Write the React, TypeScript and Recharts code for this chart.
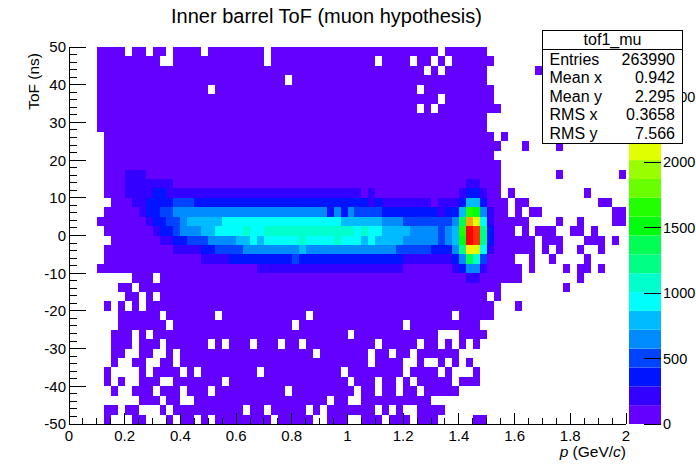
import React from 'react';
import { ScatterChart, Scatter, XAxis, YAxis, BarChart, Bar } from 'recharts';

const CHART_W = 696;
const CHART_H = 472;
const FONT = '"Liberation Sans", Arial, Helvetica, sans-serif';

// plot frame geometry (pixels)
const PLOT_LEFT = 69;
const PLOT_TOP = 47;
const PLOT_W = 557;
const PLOT_H = 377;
const Y_AXIS_W = 60;
const X_AXIS_H = 30;

// histogram binning
const X_RANGE: [number, number] = [0, 2];
const Y_RANGE: [number, number] = [-50, 50];
const NX = 80;
const NY = 40;
const Z_MAX = 2880;
const N_LEVELS = 20;

// contour level read for every bin, top row (ToF 47.5..50 ns) first,
// 80 bins in p from 0 to 2 GeV/c; '.' = empty bin, 0-9,a-j = level 0..19
const levelCodes = '0123456789abcdefghij';
const heatRows: string[] = [
  '....0000.0 0.00.0000. 00000000.0 0000000000 0000000000 000.000000 .......... ..........',
  '....000000 000..00000 00000000.0 0000000000 0000.0000. 00.0.00000 0......... ..........',
  '....000000 0000000000 0000000000 0000000000 0000000000 0.0.000000 .......0.. ..........',
  '....000000 0000000000 0000000000 0.00000000 0000000000 0000000000 .......... ..........',
  '....000000 0000000000 .000000000 0000000000 0000000000 .000000000 0......... ..........',
  '....000000 0000000000 0000000000 0000000000 0000000000 000.000000 0......... ..........',
  '....000000 0000000000 0000000000 0000000000 0000000000 .0.0000000 00........ ..........',
  '....000000 0000000000 0000000000 0000000000 0000000000 0000000000 .......... ..........',
  '....000000 0000000000 0000000000 0000000000 0000000000 0000000000 .......... ..........',
  '.....00000 0000000000 0000000000 0000000000 0000000000 0000000000 0.0....... ..........',
  '.....00000 0000000000 0000000000 0000000000 0000000000 0000000000 00...0.... 0.........',
  '.....00000 0000000000 0000000000 0000000000 0000000000 0000000000 0......... ..........',
  '.....00000 0000000000 0000000000 0000000000 0000000000 0000000000 00........ ..........',
  '.....00011 1000000000 0000000000 0000000000 0000000000 0000000000 00........ 0........0',
  '.....00011 1111100000 0000000000 0000000000 0000000000 0000000110 00........ ..........',
  '.....00011 1122111111 1111111111 1111111111 1101000000 0000001221 00.0...... ....0.....',
  '......0001 1222233322 2222222222 2222222222 2221211111 1101112552 000.00.... ......00..',
  '.....00000 1223344444 4444444444 4444444242 4333322222 2221225ba4 100.0.00.. ........00',
  '....000000 0122334555 5566666666 6666666665 5555544433 3333349ge6 100000.... 0..0....00',
  '.....00000 0012234445 5666676677 7777777777 7676655554 444345bji8 2000.0.000 ..00.0....',
  '......0000 0001122333 4444556566 6667666676 6656555544 444345aji8 2000000.00 0...000.0.',
  '.....00000 0000011112 2333344444 4445444444 4444444333 3322248fe6 1000000.0. 0..0..0...',
  '.....00000 0000000001 1112222222 2232222222 2222222211 1111124973 0000..0..0 ....0.....',
  '....000000 0000000000 0000000111 1111111111 1111111100 0000012441 00000.0... .0.00.0...',
  '.........0 00.0000000 0000000000 0000000000 0000000000 0000000110 00000..... ...0......',
  '.......00. 0000000000 0000000000 0000000000 0000000000 0000000000 00........ .0........',
  '........00 .0.0000000 0000000000 0000000000 0000000000 0000000000 .0........ ..........',
  '.....0.0.0 .000000000 0000000000 0000000000 0000000000 0000000000 0...0..... ..........',
  '.......000 000.000000 0.00000000 0000.00000 0000000000 00000.0000 0......... ..........',
  '.......000 0000.00000 0000000000 00.0000000 00000000.0 000000000. .......... ..........',
  '......000. 0.00000000 0000000000 0000000000 .000000000 000...0000 .......... ..........',
  '......000. 000.000000 .0.000.000 .00.000000 0000.00000 .00.0.0.0. .......... ..........',
  '......00.. 00..0.0000 0000000000 00000.0000 000.00.00. 000000.... .......... ..........',
  '......0..0 0..00.0000 0000000000 0000000000 000.0000.. 0..0.0.0.. .......... ..........',
  '.....0.... 0.0000.0.0 0000000.00 000000000. 00000000.0 000.0...0. .......... ..........',
  '.....0.0.. 000..00000 00.0000000 0000000000 .000.00.0. 00000.000. .......... ..........',
  '......0..0 00.000.000 .000000000 0.00000000 0.00.00.00 .00000.... .......... ..........',
  '.......... 000.00..00 0000000000 0000000.00 ..00000000 00........ .......... ..........',
  '.....00.00 ...0.00000 00000.00.0 0000.0.000 0000.0.0.. 0000...... .......... ..........',
  '.....0...0 0...0.00.0 .00000000. 00000..000 ..000.000. 000.....00 .......... ..........',
];

// ROOT "pretty" palette colours for the 20 contour levels
const paletteColors = [
  'rgb(99,0,255)', 'rgb(51,0,255)', 'rgb(0,20,255)', 'rgb(0,68,255)', 'rgb(0,139,255)',
  'rgb(0,187,255)', 'rgb(0,255,252)', 'rgb(0,255,204)', 'rgb(0,255,133)', 'rgb(0,255,85)',
  'rgb(0,255,14)', 'rgb(34,255,0)', 'rgb(105,255,0)', 'rgb(153,255,0)', 'rgb(224,255,0)',
  'rgb(255,238,0)', 'rgb(255,167,0)', 'rgb(255,119,0)', 'rgb(255,48,0)', 'rgb(255,0,0)',
];

const xMajorLabels = ['0', '0.2', '0.4', '0.6', '0.8', '1', '1.2', '1.4', '1.6', '1.8', '2'];
const yMajorLabels = ['-50', '-40', '-30', '-20', '-10', '0', '10', '20', '30', '40', '50'];
const zTickValues = [0, 500, 1000, 1500, 2000, 2500];
const statsLabels = ['Entries', 'Mean x', 'Mean y', 'RMS x', 'RMS y'];
const statsValues = ['263990', '0.942', '2.295', '0.3658', '7.566'];

const X_MINOR_STEP = 0.05;
const Y_MINOR_STEP = 2;

const xTicks = Array.from({ length: 41 }, (_, i) => +(i * X_MINOR_STEP).toFixed(3));
const yTicks = Array.from({ length: 51 }, (_, i) => Y_RANGE[0] + i * Y_MINOR_STEP);

const DX = (X_RANGE[1] - X_RANGE[0]) / NX;
const DY = (Y_RANGE[1] - Y_RANGE[0]) / NY;
const DZ = Z_MAX / N_LEVELS;
const CELL_W = PLOT_W / NX;
const CELL_H = PLOT_H / NY;

const LABEL_SIZE = 15;
const PALETTE_LABEL_SIZE = 14.5;
const TITLE_AXIS_SIZE = 15.5;

type Bin = { x: number; y: number; count: number };
const bins: Bin[] = [];
heatRows.forEach((row, r) => {
  const s = row.replace(/ /g, '');
  for (let c = 0; c < s.length; c++) {
    const k = levelCodes.indexOf(s[c]);
    if (k < 0) continue;
    bins.push({
      x: X_RANGE[0] + (c + 0.5) * DX,
      y: Y_RANGE[1] - (r + 0.5) * DY,
      count: Math.round((k + 0.5) * DZ),
    });
  }
});

const levelOf = (v: number) => Math.max(0, Math.min(N_LEVELS - 1, Math.floor(v / DZ)));

const paletteRow: Record<string, number | string> = { k: 'z' };
paletteColors.forEach((_, i) => {
  paletteRow['l' + i] = DZ;
});
const paletteData = [paletteRow];

const CellShape = (props: any) => {
  const { cx, cy, payload } = props;
  if (cx == null || cy == null) return null;
  return (
    <rect
      x={cx - CELL_W / 2}
      y={cy - CELL_H / 2}
      width={CELL_W}
      height={CELL_H}
      fill={paletteColors[levelOf(payload.count)]}
      shapeRendering="crispEdges"
    />
  );
};

const XTick = (props: any) => {
  const { x, y, payload } = props;
  const v = payload.value as number;
  const idx = xMajorLabels.findIndex((l) => Math.abs(Number(l) - v) < 1e-6);
  const major = idx >= 0;
  return (
    <g>
      <line x1={x} x2={x} y1={y} y2={y - (major ? 11.3 : 5.7)} stroke="#000" strokeWidth={1} shapeRendering="crispEdges" />
      {major && (
        <text x={x} y={y + 16.5} textAnchor="middle" fontSize={LABEL_SIZE} fontFamily={FONT} fill="#000">
          {xMajorLabels[idx]}
        </text>
      )}
    </g>
  );
};

const YTick = (props: any) => {
  const { x, y, payload } = props;
  const v = payload.value as number;
  const idx = yMajorLabels.findIndex((l) => Math.abs(Number(l) - v) < 1e-6);
  const major = idx >= 0;
  return (
    <g>
      <line x1={x} x2={x + (major ? 16.7 : 8.4)} y1={y} y2={y} stroke="#000" strokeWidth={1} shapeRendering="crispEdges" />
      {major && (
        <text x={x - 3} y={y} dy="0.36em" textAnchor="end" fontSize={LABEL_SIZE} fontFamily={FONT} fill="#000">
          {yMajorLabels[idx]}
        </text>
      )}
    </g>
  );
};

const ZTick = (props: any) => {
  const { x, y, payload } = props;
  return (
    <g>
      <line x1={x} x2={x - 16.7} y1={y} y2={y} stroke="#000" strokeWidth={1} shapeRendering="crispEdges" />
      <text x={x + 2} y={y} dy="0.36em" textAnchor="start" fontSize={PALETTE_LABEL_SIZE} fontFamily={FONT} fill="#000">
        {String(payload.value)}
      </text>
    </g>
  );
};

const frameLine = { stroke: '#000', strokeWidth: 1, shapeRendering: 'crispEdges' } as any;

export default function App() {
  const marginMain = {
    top: PLOT_TOP,
    right: CHART_W - PLOT_LEFT - PLOT_W,
    bottom: CHART_H - PLOT_TOP - PLOT_H - X_AXIS_H,
    left: PLOT_LEFT - Y_AXIS_W,
  };
  const statsX = 542.5;
  const statsY = 30.5;
  const statsW = 140;
  const statsH = 113;
  return (
    <div style={{ position: 'absolute', left: 0, top: 0, width: CHART_W, height: CHART_H, background: '#fff', overflow: 'hidden' }}>
      <div style={{ position: 'absolute', left: 0, top: 0 }}>
        <ScatterChart width={CHART_W} height={CHART_H} margin={marginMain}>
          <Scatter data={bins} shape={<CellShape />} isAnimationActive={false} zIndex={0} />
          <XAxis
            type="number"
            dataKey="x"
            domain={X_RANGE}
            ticks={xTicks}
            interval={0}
            height={X_AXIS_H}
            tick={<XTick />}
            tickLine={false}
            tickSize={0}
            tickMargin={0}
            axisLine={frameLine}
            allowDataOverflow
          />
          <YAxis
            type="number"
            dataKey="y"
            domain={Y_RANGE}
            ticks={yTicks}
            interval={0}
            width={Y_AXIS_W}
            tick={<YTick />}
            tickLine={false}
            tickSize={0}
            tickMargin={0}
            axisLine={frameLine}
            allowDataOverflow
          />
          <XAxis
            xAxisId="top"
            orientation="top"
            type="number"
            domain={X_RANGE}
            height={0}
            tick={false}
            tickLine={false}
            axisLine={frameLine}
            allowDataOverflow
          />
          <YAxis
            yAxisId="right"
            orientation="right"
            type="number"
            domain={Y_RANGE}
            width={0}
            tick={false}
            tickLine={false}
            axisLine={frameLine}
            allowDataOverflow
          />
        </ScatterChart>
      </div>
      <div style={{ position: 'absolute', left: 0, top: 0 }}>
        <BarChart
          width={CHART_W}
          height={CHART_H}
          data={paletteData}
          margin={{ top: PLOT_TOP, right: 0, bottom: CHART_H - PLOT_TOP - PLOT_H, left: 629 }}
          barCategoryGap={0}
          barGap={0}
        >
          <XAxis dataKey="k" hide />
          <YAxis
            orientation="right"
            type="number"
            domain={[0, Z_MAX]}
            ticks={zTickValues}
            interval={0}
            width={35}
            tick={<ZTick />}
            tickLine={false}
            tickSize={0}
            tickMargin={0}
            axisLine={false}
            allowDataOverflow
          />
          {paletteColors.map((c, i) => (
            <Bar key={i} dataKey={'l' + i} stackId="pal" fill={c} isAnimationActive={false} />
          ))}
        </BarChart>
      </div>
      <svg
        width={CHART_W}
        height={CHART_H}
        style={{ position: 'absolute', left: 0, top: 0, pointerEvents: 'none' }}
        fontFamily={FONT}
      >
        <text x={326.5} y={23} textAnchor="middle" fontSize={20} fill="#000">
          Inner barrel ToF (muon hypothesis)
        </text>
        <text x={626} y={457} textAnchor="end" fontSize={TITLE_AXIS_SIZE} fill="#000">
          <tspan fontStyle="italic">p</tspan>
          {' (GeV/'}
          <tspan fontStyle="italic">c</tspan>
          {')'}
        </text>
        <text x={0} y={0} transform="translate(39,53) rotate(-90)" textAnchor="end" fontSize={TITLE_AXIS_SIZE} fill="#000">
          ToF (ns)
        </text>
        <rect x={statsX} y={statsY} width={statsW} height={statsH} fill="#fff" stroke="#000" strokeWidth={1} />
        <line x1={statsX} x2={statsX + statsW} y1={49.5} y2={49.5} stroke="#000" strokeWidth={1} />
        <text x={statsX + statsW / 2} y={44.5} textAnchor="middle" fontSize={16} fill="#000">
          tof1_mu
        </text>
        {statsLabels.map((l, i) => (
          <g key={l}>
            <text x={549.5} y={64.5 + i * 18.6} fontSize={16} fill="#000">
              {l}
            </text>
            <text x={675} y={64.5 + i * 18.6} textAnchor="end" fontSize={16} fill="#000">
              {statsValues[i]}
            </text>
          </g>
        ))}
      </svg>
    </div>
  );
}
